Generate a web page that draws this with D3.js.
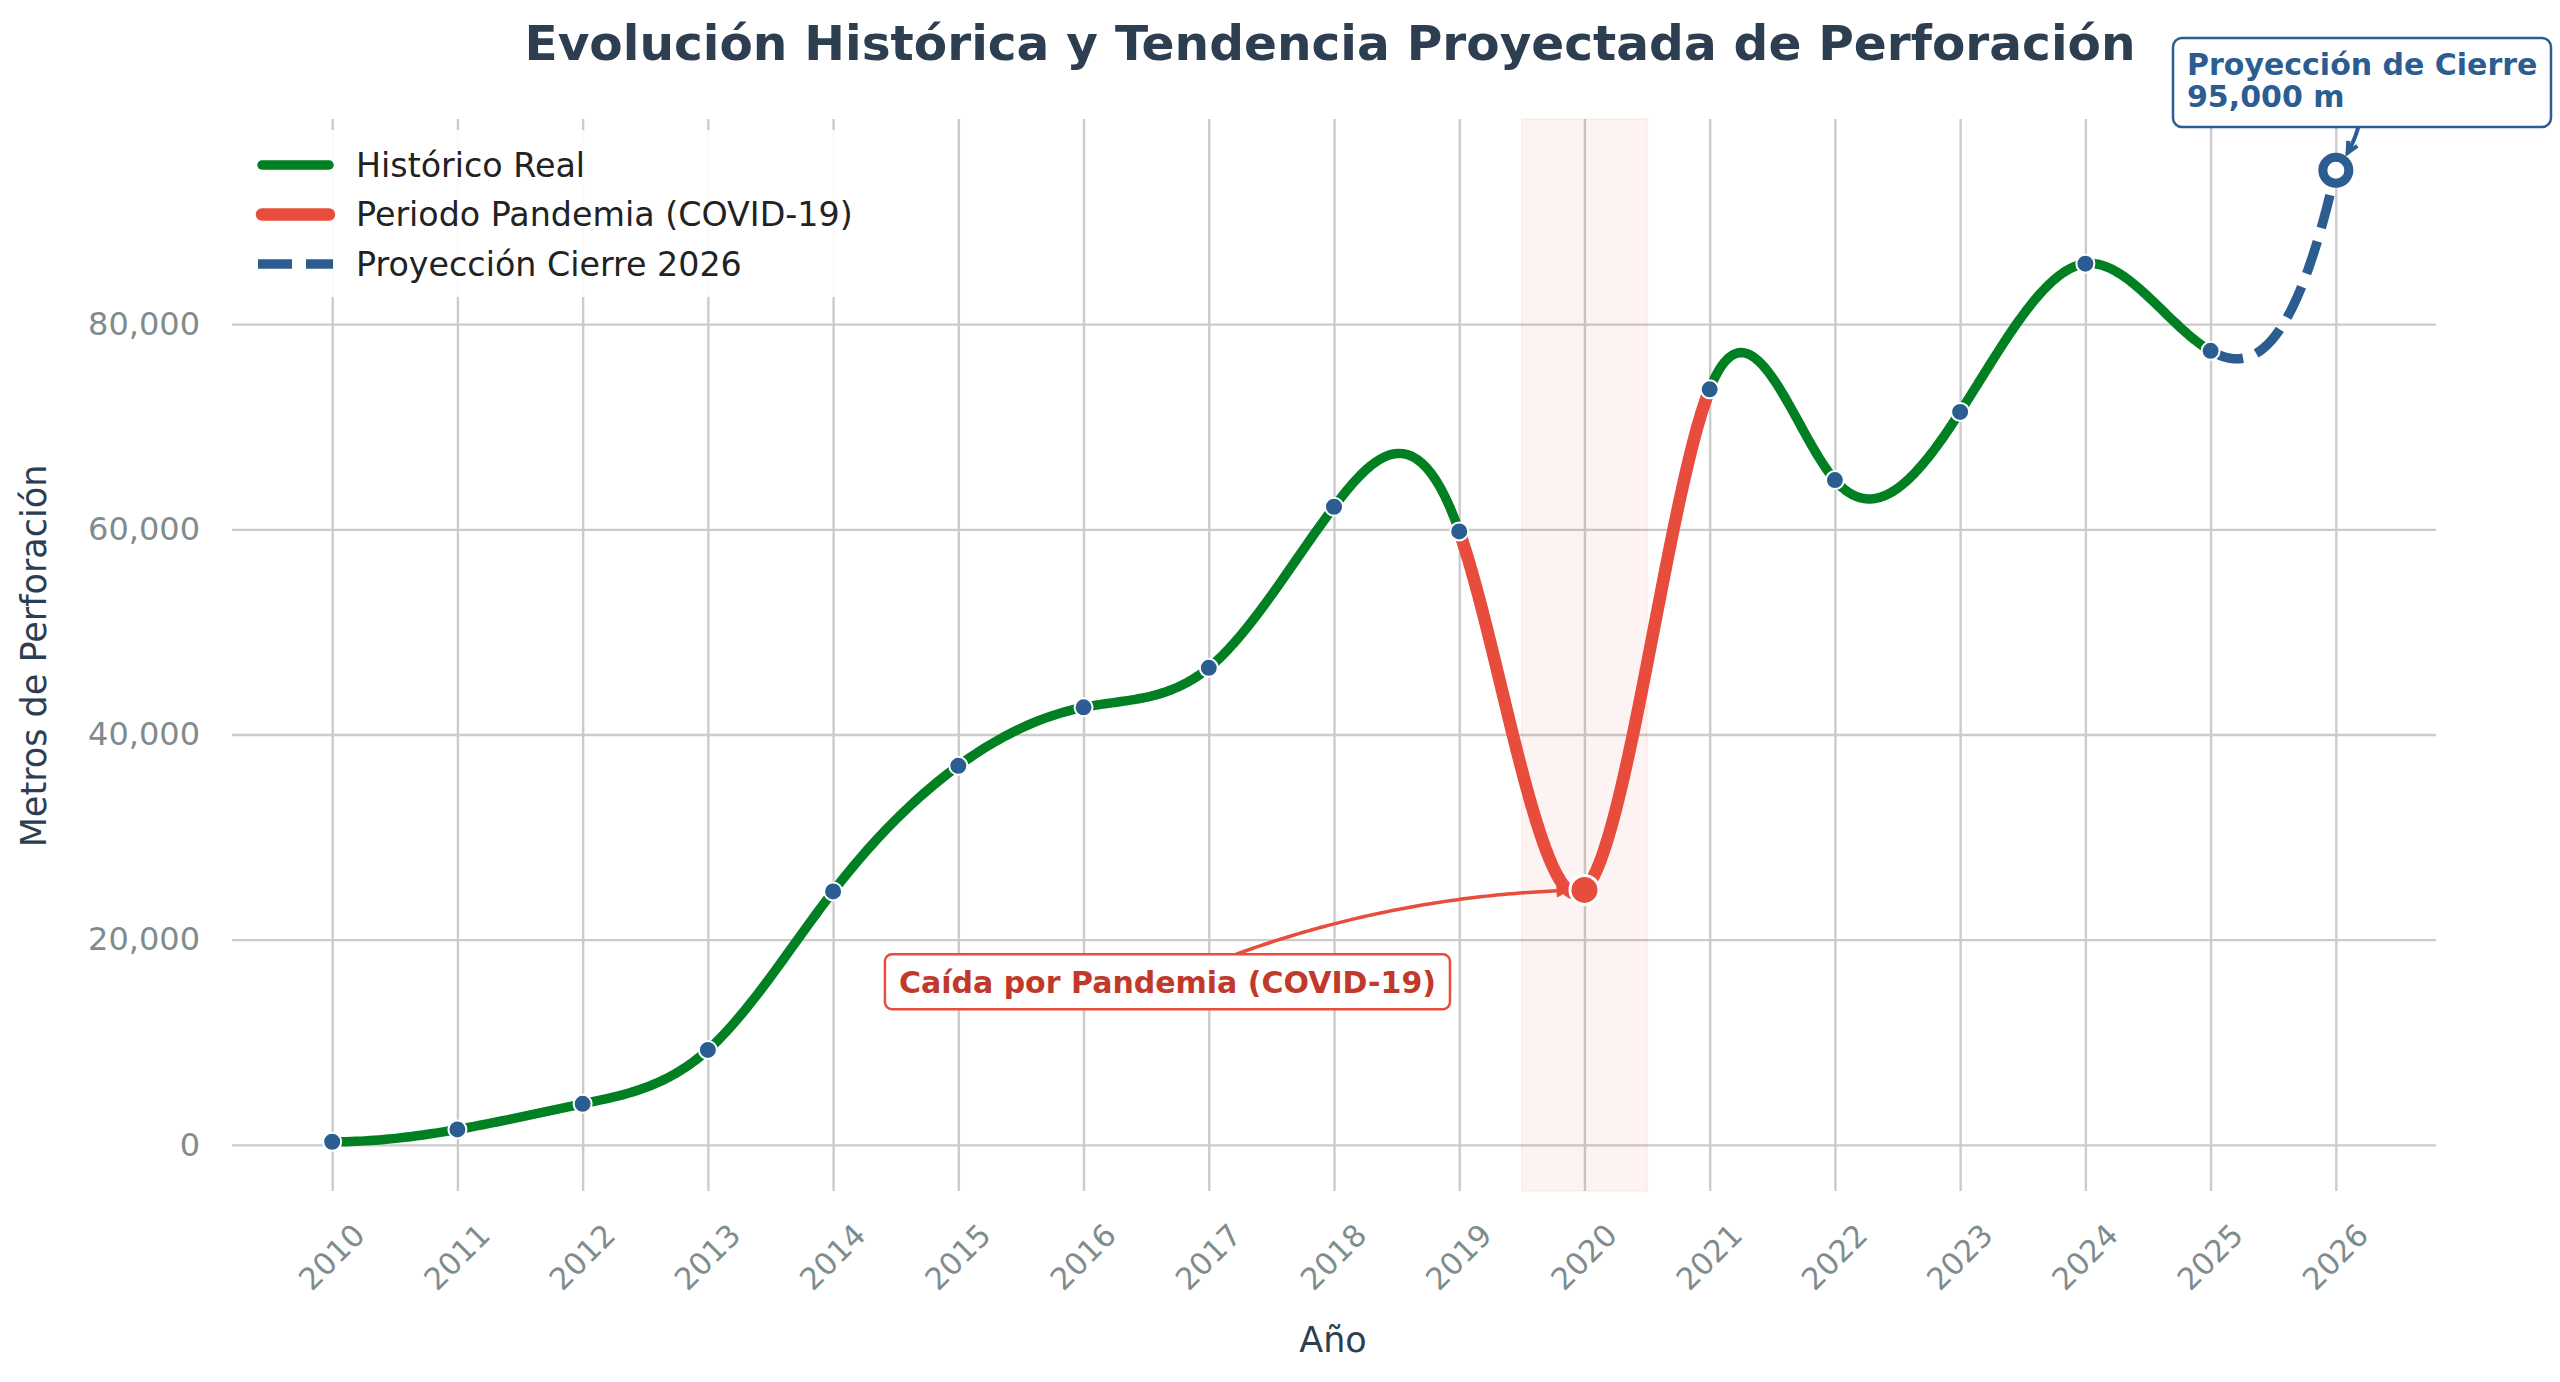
<!DOCTYPE html>
<html><head><meta charset="utf-8">
<script src="https://cdn.jsdelivr.net/npm/d3@7"></script>
<style>body{margin:0;background:#fff} text{font-family:"DejaVu Sans",sans-serif}</style>
</head><body>
<svg id="chart" width="2560" height="1382"></svg>
<script>
// ---- data ----
const years  = [2010, 2011, 2012, 2013, 2014, 2015, 2016, 2017, 2018, 2019, 2020, 2021, 2022, 2023, 2024, 2025, 2026];
const metros = [300, 1500, 4000, 9250, 24700, 36950, 42650, 46500, 62200, 59800, 24850, 73650, 64800, 71450, 85900, 77400, 95000];
const yTicks = [0, 20000, 40000, 60000, 80000];
const segStart = [2010, 2019, 2021, 2025];
const segEnd   = [2019, 2021, 2025, 2026];
const segKind  = ["hist", "covid", "hist", "proj"];
const legendLabels = ["Histórico Real", "Periodo Pandemia (COVID-19)", "Proyección Cierre 2026"];
const covidYear = 2020;
const projYear = 2026;
const titleText = "Evolución Histórica y Tendencia Proyectada de Perforación";
const xLabel = "Año";
const yLabel = "Metros de Perforación";
const covidNote = "Caída por Pandemia (COVID-19)";
const projNote = "Proyección de Cierre";

// ---- styles ----
const C = {green:"#008022", red:"#e74c3c", blue:"#2b5d91", grid:"#cbcbcb", tick:"#7f8c8d", dark:"#2c3e50", darkRed:"#c0392b"};
const style = {
  hist:  {stroke:C.green, width:9.5, dash:null, cap:"round"},
  covid: {stroke:C.red, width:12.5, dash:null, cap:"round"},
  proj:  {stroke:C.blue, width:9.5, dash:"34 14", cap:"butt"}
};

const svg = d3.select("#chart");
const L = 232, R = 2436, T = 119, B = 1191;
const x = d3.scaleLinear().domain([2009.2, 2026.8]).range([L, R]);
const y = d3.scaleLinear().domain([-4500, 100000]).range([B, T]);

// not-a-knot cubic spline
function spline(xs, ys) {
  const n = xs.length, h = [];
  for (let i = 0; i < n - 1; i++) h.push(xs[i+1] - xs[i]);
  const A = Array.from({length:n}, () => new Array(n).fill(0)), b = new Array(n).fill(0);
  A[0][0] = -h[1]; A[0][1] = h[0] + h[1]; A[0][2] = -h[0];
  for (let i = 1; i < n - 1; i++) {
    A[i][i-1] = h[i-1]; A[i][i] = 2 * (h[i-1] + h[i]); A[i][i+1] = h[i];
    b[i] = 6 * ((ys[i+1] - ys[i]) / h[i] - (ys[i] - ys[i-1]) / h[i-1]);
  }
  A[n-1][n-3] = -h[n-2]; A[n-1][n-2] = h[n-3] + h[n-2]; A[n-1][n-1] = -h[n-3];
  for (let c = 0; c < n; c++) {
    let p = c;
    for (let r = c + 1; r < n; r++) if (Math.abs(A[r][c]) > Math.abs(A[p][c])) p = r;
    [A[c], A[p]] = [A[p], A[c]]; [b[c], b[p]] = [b[p], b[c]];
    for (let r = c + 1; r < n; r++) {
      const f = A[r][c] / A[c][c];
      if (f === 0) continue;
      for (let k = c; k < n; k++) A[r][k] -= f * A[c][k];
      b[r] -= f * b[c];
    }
  }
  const M = new Array(n).fill(0);
  for (let r = n - 1; r >= 0; r--) {
    let s = b[r];
    for (let k = r + 1; k < n; k++) s -= A[r][k] * M[k];
    M[r] = s / A[r][r];
  }
  return function(xv) {
    let i = 0;
    while (i < n - 2 && xv > xs[i+1]) i++;
    const hi = h[i], a = xs[i+1] - xv, bb = xv - xs[i];
    return M[i]*a*a*a/(6*hi) + M[i+1]*bb*bb*bb/(6*hi) + (ys[i]/hi - M[i]*hi/6)*a + (ys[i+1]/hi - M[i+1]*hi/6)*bb;
  };
}
const f = spline(years, metros);

// ---- grid ----
const yAxis = d3.axisLeft(y).tickValues(yTicks).tickSize(-(R - L)).tickPadding(32).tickFormat(d3.format(","));
const gy = svg.append("g").attr("transform", `translate(${L},0)`).call(yAxis);
gy.select(".domain").remove();
gy.selectAll("line").attr("stroke", C.grid).attr("stroke-width", 2.4);
gy.selectAll("text").attr("fill", C.tick).style("font-size", "32px").style("font-family", "DejaVu Sans");

const xAxis = d3.axisBottom(x).tickValues(years).tickSize(-(B - T)).tickPadding(0).tickFormat(d3.format("d"));
const gx = svg.append("g").attr("transform", `translate(0,${B})`).call(xAxis);
gx.select(".domain").remove();
gx.selectAll("line").attr("stroke", C.grid).attr("stroke-width", 2.4);
gx.selectAll("text").attr("fill", C.tick).style("font-size", "30.5px").style("font-family", "DejaVu Sans")
  .attr("y", null).attr("dy", "0.35em").attr("text-anchor", "middle")
  .attr("transform", "translate(-1,66) rotate(-45)");

// ---- covid shading ----
svg.append("rect").attr("x", x(covidYear - 0.5)).attr("y", T)
  .attr("width", x(covidYear + 0.5) - x(covidYear - 0.5)).attr("height", B - T)
  .attr("fill", C.red).attr("fill-opacity", 0.065)
  .attr("stroke", C.red).attr("stroke-opacity", 0.06).attr("stroke-width", 2);

// ---- lines ----
const line = d3.line().x(d => x(d[0])).y(d => y(d[1]));
segStart.forEach((s, k) => {
  const e = segEnd[k], st = style[segKind[k]];
  const pts = d3.range(0, 241).map(j => { const xv = s + (e - s) * j / 240; return [xv, f(xv)]; });
  svg.append("path").datum(pts).attr("d", line).attr("fill", "none")
    .attr("stroke", st.stroke).attr("stroke-width", st.width)
    .attr("stroke-linecap", st.cap).attr("stroke-linejoin", "round")
    .attr("stroke-dasharray", st.dash);
});

// ---- annotation arrows ----
function arcPath(p0, p2, rad, shrinkB) {
  const dx = p2[0] - p0[0], dyDisp = -(p2[1] - p0[1]);
  const mx = (p0[0] + p2[0]) / 2, my = (p0[1] + p2[1]) / 2;
  const c = [mx + rad * dyDisp, my + rad * dx];
  const B2 = t => [(1-t)*(1-t)*p0[0] + 2*t*(1-t)*c[0] + t*t*p2[0], (1-t)*(1-t)*p0[1] + 2*t*(1-t)*c[1] + t*t*p2[1]];
  let t = 1;
  while (t > 0 && Math.hypot(B2(t)[0] - p2[0], B2(t)[1] - p2[1]) < shrinkB) t -= 0.002;
  return d3.range(0, 101).map(j => B2(t * j / 100));
}
function drawArrow(pts, color, w, filled, hl) {
  svg.append("path").datum(pts).attr("d", d3.line()).attr("fill", "none").attr("stroke", color).attr("stroke-width", w).attr("stroke-linecap", "round");
  const e = pts[pts.length - 1], p = pts[pts.length - 4];
  const ang = Math.atan2(e[1] - p[1], e[0] - p[0]);
  const a1 = [e[0] - hl * Math.cos(ang - 0.45), e[1] - hl * Math.sin(ang - 0.45)];
  const a2 = [e[0] - hl * Math.cos(ang + 0.45), e[1] - hl * Math.sin(ang + 0.45)];
  if (filled) svg.append("path").attr("d", `M${a1}L${e}L${a2}Z`).attr("fill", color).attr("stroke", color).attr("stroke-width", 1);
  else svg.append("path").attr("d", `M${a1}L${e}L${a2}`).attr("fill", "none").attr("stroke", color).attr("stroke-width", w).attr("stroke-linejoin", "miter");
}
const iC = years.indexOf(covidYear), iP = years.indexOf(projYear);
const covidPt = [x(covidYear), y(metros[iC])];
const projPt = [x(projYear), y(metros[iP])];
const covidTextPos = [x(2016.67), y(15900)];
drawArrow(arcPath(covidTextPos, covidPt, -0.1, 14), C.red, 3.5, true, 14);
const projBox = {x0: 2173, y0: 38, x1: 2551, y1: 127};
const projCenter = [(projBox.x0 + projBox.x1) / 2, (projBox.y0 + projBox.y1) / 2];
drawArrow(arcPath(projCenter, projPt, -0.2, 21), C.blue, 4, false, 12);

// ---- markers ----
svg.append("g").selectAll("circle").data(years.map((yr, i) => [yr, metros[i]]).filter(d => d[0] !== covidYear && d[0] !== projYear))
  .join("circle").attr("cx", d => x(d[0])).attr("cy", d => y(d[1])).attr("r", 9)
  .attr("fill", C.blue).attr("stroke", "#fff").attr("stroke-width", 2);
svg.append("circle").attr("cx", covidPt[0]).attr("cy", covidPt[1]).attr("r", 14.5)
  .attr("fill", C.red).attr("stroke", "#fff").attr("stroke-width", 3);
svg.append("circle").attr("cx", projPt[0]).attr("cy", projPt[1]).attr("r", 13)
  .attr("fill", "#fff").attr("stroke", C.blue).attr("stroke-width", 9);

// ---- annotation boxes ----
const cb = svg.append("g");
const ct = cb.append("text").attr("x", covidTextPos[0]).attr("y", covidTextPos[1]).attr("dy", "0.36em")
  .attr("text-anchor", "middle").attr("fill", C.darkRed).style("font-size", "30px").style("font-weight", "bold").text(covidNote);
const bbc = ct.node().getBBox();
cb.insert("rect", "text").attr("x", bbc.x - 14).attr("y", covidTextPos[1] - 27.5).attr("width", bbc.width + 28).attr("height", 55)
  .attr("rx", 7).attr("fill", "#fff").attr("stroke", C.red).attr("stroke-width", 2.5);

const pb = svg.append("g");
pb.append("rect").attr("x", projBox.x0).attr("y", projBox.y0).attr("width", projBox.x1 - projBox.x0).attr("height", projBox.y1 - projBox.y0)
  .attr("rx", 9).attr("fill", "#fff").attr("stroke", C.blue).attr("stroke-width", 2.5);
pb.append("text").attr("x", 2187).attr("y", 75).attr("fill", C.blue).style("font-size", "30px").style("font-weight", "bold").text(projNote);
pb.append("text").attr("x", 2187).attr("y", 107).attr("fill", C.blue).style("font-size", "30px").style("font-weight", "bold")
  .text(d3.format(",")(metros[iP]) + " m");

// ---- legend ----
const lg = svg.append("g");
lg.append("rect").attr("x", 248).attr("y", 130).attr("width", 622).attr("height", 167).attr("rx", 8)
  .attr("fill", "#fff").attr("fill-opacity", 0.9);
const legendKinds = ["hist", "covid", "proj"];
legendLabels.forEach((lab, i) => {
  const yy = 165 + i * 49.5, st = style[legendKinds[i]];
  const x0 = st.cap === "round" ? 262 : 258, x1 = st.cap === "round" ? 329 : 333;
  lg.append("line").attr("x1", x0).attr("x2", x1).attr("y1", yy).attr("y2", yy)
    .attr("stroke", st.stroke).attr("stroke-width", st.width).attr("stroke-linecap", st.cap).attr("stroke-dasharray", st.dash);
  lg.append("text").attr("x", 356).attr("y", yy).attr("dy", "0.36em").attr("fill", "#222").style("font-size", "33.3px").text(lab);
});

// ---- titles ----
svg.append("text").attr("x", 1330).attr("y", 60).attr("text-anchor", "middle").attr("fill", C.dark)
  .style("font-size", "48.6px").style("font-weight", "bold").text(titleText);
svg.append("text").attr("x", 1333).attr("y", 1352).attr("text-anchor", "middle").attr("fill", C.dark)
  .style("font-size", "35px").text(xLabel);
svg.append("text").attr("transform", "translate(46,656) rotate(-90)").attr("text-anchor", "middle").attr("fill", C.dark)
  .style("font-size", "35px").text(yLabel);
</script>
</body></html>
